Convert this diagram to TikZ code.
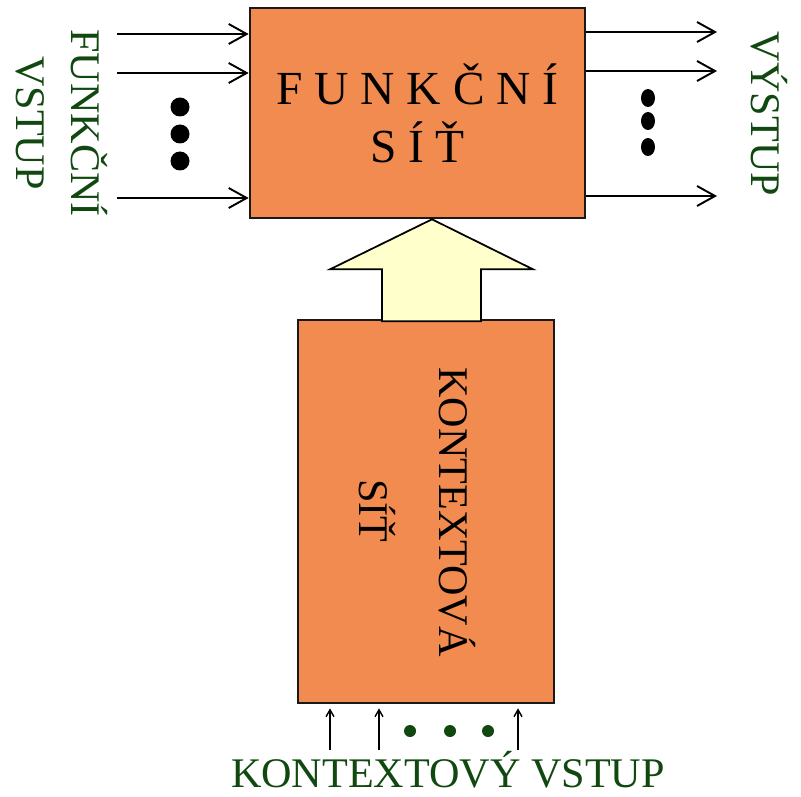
\documentclass[tikz,border=0pt]{standalone}
\usepackage{fontspec}
\setmainfont{Liberation Serif}
\usetikzlibrary{arrows.meta, positioning, calc}
\definecolor{netfill}{RGB}{242,139,80}
\definecolor{flowfill}{RGB}{255,255,204}
\definecolor{ingreen}{RGB}{16,72,16}

\begin{document}
\begin{tikzpicture}[
  net/.style={draw=black!90, line width=1.5pt, fill=netfill, inner sep=0pt},
  txt/.style={font=\fontsize{24}{31}\selectfont, align=center, inner sep=0pt},
  lbl/.style={txt, text=ingreen},
  arr/.style={-{Straight Barb[length=3.6mm, width=4mm]}, line width=1.1pt},
  small/.style={-{Straight Barb[length=1.4mm, width=1.6mm]}, line width=0.8pt}]
  \useasboundingbox (0,0) rectangle (16.02,-15.94);
  % the two nets
  \node[net, minimum width=6.7cm, minimum height=4.2cm, align=center,
        font=\fontsize{27}{33}\selectfont] (fsit) at (8.35,-2.26) {F U N K Č N Í\\S Í Ť};
  \node[net, minimum width=5.12cm, minimum height=7.66cm] (ksit) at (8.52,-10.23) {};
  \node[txt, rotate=-90] (kname) at (9.14,-10.24) {KONTEXTOVÁ};
  \node[txt, rotate=-90] (kname2) at (7.54,-10.22) {SÍŤ};
  % block arrow between them
  \coordinate (tip) at ($(fsit.south)+(0.29,0)$);
  \draw[fill=flowfill, line width=1pt] (tip) -- ++(2.02,-1.0) -- ++(-1.04,0)
    -- ++(0,-1.04) -- ++(-1.98,0) -- ++(0,1.04) -- ++(-1.04,0) -- cycle;
  % inputs and outputs of the functional net
  \foreach \y [count=\i] in {-0.68,-1.46,-3.96} {
    \coordinate (in\i) at (2.34,\y);
    \draw[arr] (in\i) -- (in\i -| fsit.west);
  }
  \foreach \y [count=\i] in {-0.64,-1.42,-3.92} {
    \coordinate (out\i) at (14.34,\y);
    \draw[arr] (out\i -| fsit.east) -- (out\i);
  }
  \foreach \y in {-2.14,-2.68,-3.22} \fill (3.6,\y) circle (0.19);
  \foreach \y in {-1.96,-2.42,-2.94} \fill (12.96,\y) ellipse (0.14 and 0.18);
  % context inputs
  \foreach \x [count=\i] in {6.6,7.58,10.36} {
    \coordinate (kin\i) at (\x,-15.0);
    \draw[small, shorten >=0.08cm] (kin\i) -- (kin\i |- ksit.south);
  }
  \foreach \x in {8.2,9.0,9.76} \fill[ingreen] (\x,-14.62) circle (0.12);
  % labels
  \node[lbl, rotate=-90] (fin) at (1.24,-2.46) {FUNKČNÍ\\VSTUP};
  \node[lbl, rotate=-90] (fout) at (15.38,-2.28) {VÝSTUP};
  \node[lbl, anchor=base] (kinput) at (8.96,-15.74) {KONTEXTOVÝ VSTUP};
\end{tikzpicture}
\end{document}
